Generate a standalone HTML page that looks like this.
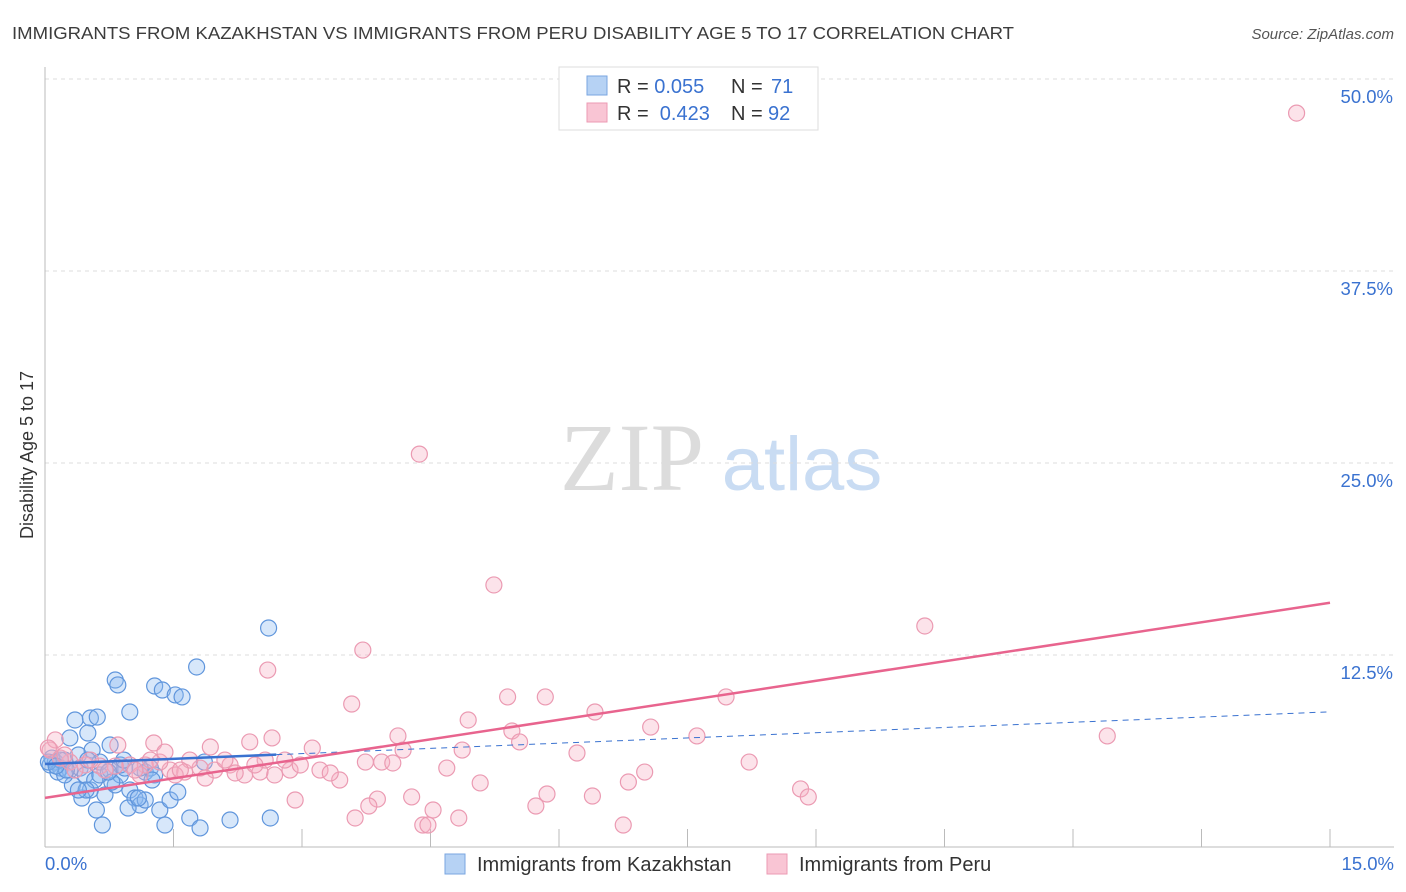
<!DOCTYPE html>
<html><head><meta charset="utf-8"><style>
body{margin:0;background:#fff;font-family:"Liberation Sans",sans-serif;}
svg{display:block}
</style></head><body>
<svg id="chart" width="1406" height="892" xmlns="http://www.w3.org/2000/svg">
<text x="12" y="39" font-size="17.5" fill="#3c3c3c" textLength="1002" lengthAdjust="spacingAndGlyphs">IMMIGRANTS FROM KAZAKHSTAN VS IMMIGRANTS FROM PERU DISABILITY AGE 5 TO 17 CORRELATION CHART</text>
<text x="1394" y="39" font-size="15" fill="#555" text-anchor="end" font-style="italic">Source: ZipAtlas.com</text>
<text transform="translate(33,455) rotate(-90)" font-size="18" fill="#333" text-anchor="middle">Disability Age 5 to 17</text>
<g>
<text x="632" y="490" font-size="96" fill="#dcdcdc" font-family="Liberation Serif,serif" text-anchor="middle">ZIP</text>
<text x="802" y="490" font-size="76" fill="#c9dcf3" text-anchor="middle">atlas</text>
</g>
<g id="grid"></g><g id="axes"></g><g id="pts"></g><g id="trends"></g>
<g>
<rect x="559" y="67" width="259" height="63" fill="#fff" stroke="#ddd"/>
<rect x="587" y="76" width="20" height="19" fill="#b6d2f4" stroke="#7aa6e0"/>
<rect x="587" y="103" width="20" height="19" fill="#f9c5d4" stroke="#ec9ab3"/>
<text x="617" y="93" font-size="20" fill="#333">R = <tspan fill="#3a72d0">0.055</tspan><tspan x="731">N = </tspan><tspan fill="#3a72d0" x="771">71</tspan></text>
<text x="617" y="120" font-size="20" fill="#333">R = <tspan fill="#3a72d0">&#160;0.423</tspan><tspan x="731">N = </tspan><tspan fill="#3a72d0" x="768">92</tspan></text>
</g>
<g>
<rect x="445" y="854" width="20" height="20" fill="#b6d2f4" stroke="#7aa6e0"/>
<text x="477" y="871" font-size="20" fill="#333">Immigrants from Kazakhstan</text>
<rect x="767" y="854" width="20" height="20" fill="#f9c5d4" stroke="#ec9ab3"/>
<text x="799" y="871" font-size="20" fill="#333">Immigrants from Peru</text>
</g>
</svg>
<script>
const yTicks=[12.5,25,37.5,50];
const yTickLabels=["12.5%","25.0%","37.5%","50.0%"];
const xTickLabels=["0.0%","15.0%"];
const blueX=[0.06,0.12,0.18,0.23,0.29,0.08,0.15,0.35,0.53,0.61,0.5,0.29,0.39,0.55,0.76,0.82,0.85,0.99,1.28,1.37,1.52,1.6,1.77,2.61,0.41,0.47,0.53,0.58,0.64,0.7,0.76,0.82,0.88,0.93,0.99,1.05,1.11,1.17,1.23,1.28,1.34,1.4,1.46,1.55,1.69,1.81,2.16,2.63,0.67,0.97,0.43,0.32,0.18,0.23,0.04,0.64,0.88,1.11,1.25,0.78,0.48,0.6,0.39,0.25,0.13,1.86,0.5,0.74,1.17,1.09,0.92];
const blueY=[5.34,5.53,5.14,5.66,5.01,5.79,4.88,8.27,8.4,8.46,7.42,7.1,5.99,6.31,6.64,10.87,10.55,8.79,10.48,10.22,9.9,9.77,11.72,14.26,5.14,4.69,3.71,4.36,4.69,3.39,5.01,4.04,4.69,5.14,3.71,3.19,2.73,4.88,5.14,4.69,2.41,1.43,3.06,3.58,1.89,1.24,1.76,1.89,1.43,2.54,3.19,4.04,5.66,4.69,5.53,5.53,5.34,5.14,4.36,4.23,3.71,2.41,3.71,5.01,5.27,5.53,5.66,4.88,3.06,3.19,5.66];
const pinkX=[14.61,4.37,5.24,10.27,3.71,2.6,5.4,5.84,7.95,3.58,6.42,4.94,7.07,5.45,7.61,12.4,4.12,5.54,2.65,2.39,1.93,1.27,0.85,4.87,4.18,3.12,6.21,8.22,3.93,4.06,4.69,7.0,6.81,5.08,3.44,3.21,2.86,2.68,2.51,2.33,2.16,1.98,1.81,1.63,1.46,1.34,1.17,0.99,0.82,0.64,0.47,0.29,0.18,0.06,0.12,6.39,5.86,8.82,8.91,3.88,4.28,3.78,4.53,2.92,5.73,4.83,3.62,4.41,4.47,6.75,1.69,1.52,1.11,2.22,2.98,3.33,2.8,2.57,2.1,1.4,1.05,0.7,0.53,0.35,0.23,0.04,3.74,1.58,1.87,2.45,1.23];
const pinkY=[47.78,25.58,17.06,14.39,12.82,11.52,9.77,9.77,9.77,9.31,8.79,8.27,7.81,7.55,7.23,7.23,7.23,6.84,7.1,6.84,6.51,6.77,6.64,6.31,6.31,6.44,6.12,5.53,5.53,5.47,5.14,4.88,4.23,4.17,4.36,5.01,5.01,4.69,4.88,4.69,5.34,5.01,5.14,4.88,5.01,5.53,5.34,5.34,5.27,5.27,5.34,5.53,5.79,6.31,6.97,3.32,3.45,3.78,3.26,3.12,3.26,2.67,2.41,3.06,2.67,1.89,1.89,1.43,1.43,1.43,5.66,4.69,4.69,4.82,5.34,4.82,5.66,5.66,5.66,6.18,5.01,5.01,5.66,5.01,5.99,6.44,5.53,5.01,4.49,5.34,5.66];
const blueTrend=[5.4,8.8];
const pinkTrend=[3.2,15.9];
const NS="http://www.w3.org/2000/svg";
const X0=45,X1=1330,Y0=847,Y1=79;
const xs=v=>X0+(v/15)*(X1-X0);
const ys=v=>Y0-(v/50)*(Y0-Y1);
function mk(t,a,p){const e=document.createElementNS(NS,t);for(const k in a)e.setAttribute(k,a[k]);p.appendChild(e);return e;}
const grid=document.getElementById('grid'),axes=document.getElementById('axes'),pts=document.getElementById('pts'),tr=document.getElementById('trends');
yTicks.forEach((t,i)=>{
 const l=mk('line',{x1:X0,x2:1394,y1:ys(t),y2:ys(t),stroke:'#ddd','stroke-dasharray':'4,4'},grid);
 
 
 const tx=mk('text',{x:1393,y:ys(t)+24,'font-size':18.5,fill:'#3a72d0','text-anchor':'end'},axes);
 tx.textContent=yTickLabels[i];
 
 
});
const ya=mk('line',{x1:X0,x2:X0,y1:67,y2:Y0,stroke:'#bbb'},axes);


const xa=mk('line',{x1:X0,x2:1394,y1:Y0,y2:Y0,stroke:'#bbb'},axes);


for(let i=0;i<=10;i++){
 const tk=mk('line',{x1:xs(i*1.5),x2:xs(i*1.5),y1:Y0,y2:Y0-18,stroke:'#bbb'},axes);
 
 
}
[[0,'start',45],[15,'end',1394]].forEach((d,i)=>{
 const tx=mk('text',{x:d[2],y:870,'font-size':18.5,fill:'#3a72d0','text-anchor':d[1]},axes);
 tx.textContent=xTickLabels[i];
 
 
});
blueX.forEach((v,i)=>{
 const c=mk('circle',{cx:xs(v),cy:ys(blueY[i]),r:8,fill:'rgba(140,185,240,0.35)',stroke:'#5f95dc','stroke-width':1.2},pts);
 
 
});
pinkX.forEach((v,i)=>{
 const c=mk('circle',{cx:xs(v),cy:ys(pinkY[i]),r:8,fill:'rgba(245,175,195,0.35)',stroke:'#eb9ab2','stroke-width':1.2},pts);
 
 
});
const bAt=x=>blueTrend[0]+(blueTrend[1]-blueTrend[0])*x/15;
const b1=mk('line',{x1:xs(0),y1:ys(bAt(0)),x2:xs(2.7),y2:ys(bAt(2.7)),stroke:'#3a72d0','stroke-width':2.5},tr);


const b2=mk('line',{x1:xs(2.7),y1:ys(bAt(2.7)),x2:xs(15),y2:ys(bAt(15)),stroke:'#3a72d0','stroke-width':1,'stroke-dasharray':'6,5'},tr);


const p1=mk('line',{x1:xs(0),y1:ys(pinkTrend[0]),x2:xs(15),y2:ys(pinkTrend[1]),stroke:'#e8648e','stroke-width':2.5},tr);


</script>
</body></html>
